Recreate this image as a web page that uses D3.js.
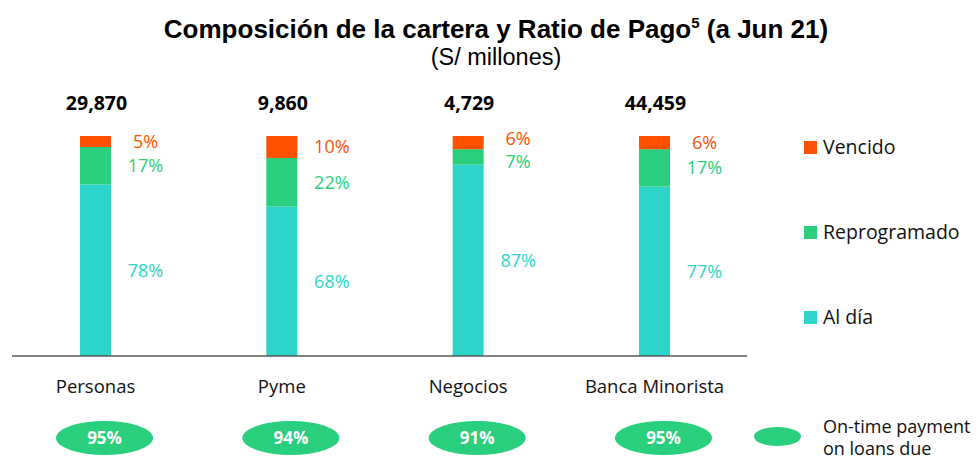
<!DOCTYPE html>
<html>
<head>
<meta charset="utf-8">
<script src="https://cdn.jsdelivr.net/npm/d3@7"></script>
<style>
  body{margin:0;background:#fff;}
  svg{display:block;}
</style>
</head>
<body>
<div id="chart"></div>
<script>
var w=979, h=461;

// data
var categories=["Personas","Pyme","Negocios","Banca Minorista"];
var totals=["29,870","9,860","4,729","44,459"];
var alDia=[78,68,87,77];
var reprogramado=[17,22,7,17];
var vencido=[5,10,6,6];
var ratioPago=[95,94,91,95];
var seriesNames=["Vencido","Reprogramado","Al día"];

var colors={"Al día":"#2DD4C9","Reprogramado":"#2ACF7D","Vencido":"#FF5100"};
var labelFont="'Open Sans', Calibri, sans-serif";

var svg=d3.select("#chart").append("svg")
    .attr("width",w)
    .attr("height",h);

// scales
var xScale=d3.scalePoint()
    .domain(categories)
    .range([95.5,654.5]);
var yScale=d3.scaleLinear()
    .domain([0,100])
    .range([356,136]);
var barW=31;

// title
var title=svg.append("text")
   .attr("x",496).attr("y",38)
   .attr("text-anchor","middle")
   .style("font-family","'Liberation Sans', Arial, sans-serif")
   .style("font-size","26px")
   .style("font-weight","bold");
title.append("tspan").text("Composición de la cartera y Ratio de Pago");
title.append("tspan").attr("dy",-10).style("font-size","15px").text("5");
title.append("tspan").attr("dy",10).text(" (a Jun 21)");
svg.append("text")
   .attr("x",496).attr("y",65)
   .attr("text-anchor","middle")
   .style("font-family","'Liberation Sans', Arial, sans-serif")
   .style("font-size","23.5px")
   .text("(S/ millones)");

// stacked data
var rows=categories.map(function(c,i){
    return {cat:c,"Al día":alDia[i],"Reprogramado":reprogramado[i],"Vencido":vencido[i]};
});
var stack=d3.stack().keys(["Al día","Reprogramado","Vencido"]);
var stacked=stack(rows);

// label positions: segment middle, pushed apart when too close
var minGap=23;
var labels=[];
categories.forEach(function(c,i){
    var col=stacked.map(function(layer){
        var d=layer[i];
        return {cat:c,key:layer.key,v:d[1]-d[0],y:(yScale(d[0])+yScale(d[1]))/2};
    });
    col.sort(function(a,b){return a.y-b.y;});
    for(var k=1;k<col.length;k++){
        if(col[k].y-col[k-1].y<minGap){
            var mid=(col[k].y+col[k-1].y)/2;
            col[k-1].y=mid-minGap/2;
            col[k].y=mid+minGap/2;
        }
    }
    labels=labels.concat(col);
});

stacked.forEach(function(layer){
    svg.append("g").attr("class","series")
     .selectAll("rect")
     .data(layer)
     .enter()
     .append("rect")
     .attr("x",function(d){return xScale(d.data.cat)-barW/2;})
     .attr("y",function(d){return yScale(d[1]);})
     .attr("width",barW)
     .attr("height",function(d){return yScale(d[0])-yScale(d[1]);})
     .style("fill",colors[layer.key]);
});

svg.selectAll(".pct")
   .data(labels)
   .enter()
   .append("text")
   .attr("class","pct")
   .attr("x",function(d){return xScale(d.cat)+50;})
   .attr("y",function(d){return d.y;})
   .attr("dy","0.35em")
   .attr("text-anchor","middle")
   .style("font-family",labelFont)
   .style("font-size","18px")
   .style("fill",function(d){return colors[d.key];})
   .text(function(d){return d.v+"%";});

// axis line
svg.append("line")
   .attr("x1",12).attr("x2",747)
   .attr("y1",yScale(0)).attr("y2",yScale(0))
   .style("stroke","#595959")
   .style("stroke-width",1.5);

// totals
svg.selectAll(".total")
   .data(categories)
   .enter()
   .append("text")
   .attr("class","total")
   .attr("x",function(d){return xScale(d)+1;})
   .attr("y",110)
   .attr("text-anchor","middle")
   .style("font-family",labelFont)
   .style("font-size","19.5px")
   .style("font-weight","bold")
   .text(function(d,i){return totals[i];});

// category labels
svg.selectAll(".cat")
   .data(categories)
   .enter()
   .append("text")
   .attr("class","cat")
   .attr("x",function(d){return xScale(d);})
   .attr("y",393)
   .attr("text-anchor","middle")
   .style("font-family",labelFont)
   .style("font-size","18.5px")
   .style("fill","#111")
   .text(function(d){return d;});

// payment ratio ellipses
var ov=svg.selectAll(".ratio")
   .data(categories)
   .enter()
   .append("g")
   .attr("class","ratio")
   .attr("transform",function(d){return "translate("+(xScale(d)+9)+",438)";});
ov.append("ellipse")
  .attr("rx",48.5).attr("ry",17)
  .style("fill",colors["Reprogramado"]);
ov.append("text")
  .attr("text-anchor","middle")
  .attr("dy","0.35em")
  .style("font-family",labelFont)
  .style("font-size","17px")
  .style("font-weight","bold")
  .style("fill","#fff")
  .text(function(d,i){return ratioPago[i]+"%";});

// legend
var leg=svg.selectAll(".legend")
   .data(seriesNames)
   .enter()
   .append("g")
   .attr("class","legend")
   .attr("transform",function(d,i){return "translate(804,"+(141+i*85)+")";});
leg.append("rect")
   .attr("width",13).attr("height",13)
   .style("fill",function(d){return colors[d];});
leg.append("text")
   .attr("x",19).attr("y",6.5)
   .attr("dy","0.35em")
   .style("font-family",labelFont)
   .style("font-size","19.5px")
   .style("fill","#111")
   .text(function(d){return d;});

svg.append("ellipse")
   .attr("cx",777.5).attr("cy",436.5)
   .attr("rx",23.5).attr("ry",9.5)
   .style("fill",colors["Reprogramado"]);
var lt=svg.append("text")
   .attr("x",823).attr("y",433)
   .style("font-family",labelFont)
   .style("font-size","18px")
   .style("fill","#111");
lt.append("tspan").attr("x",823).text("On-time payment");
lt.append("tspan").attr("x",823).attr("dy",22).text("on loans due");
</script>
</body>
</html>
